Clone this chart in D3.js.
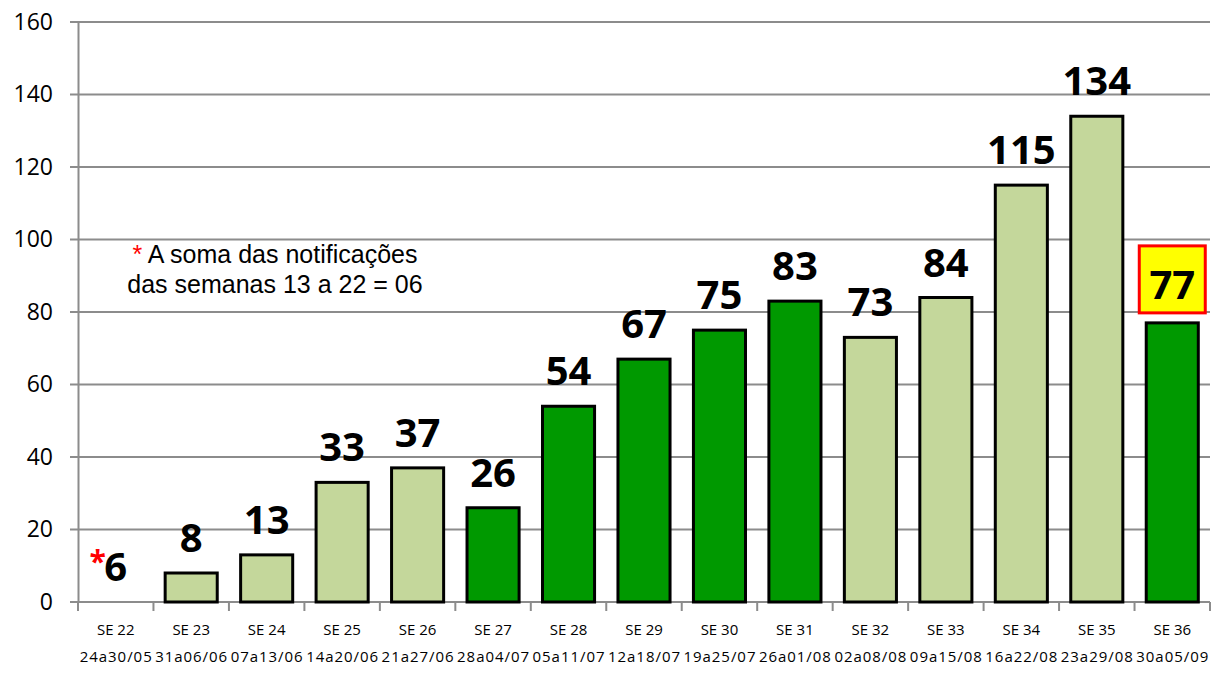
<!DOCTYPE html>
<html>
<head>
<meta charset="utf-8">
<script src="https://cdn.jsdelivr.net/npm/d3@7"></script>
<style>
  body { margin: 0; background: #fff; }
  text { font-family: "Open Sans", "Noto Sans", sans-serif; }
</style>
</head>
<body>
<script>
const weeks = ["SE 22","SE 23","SE 24","SE 25","SE 26","SE 27","SE 28","SE 29","SE 30","SE 31","SE 32","SE 33","SE 34","SE 35","SE 36"];
const periods = ["24a30/05","31a06/06","07a13/06","14a20/06","21a27/06","28a04/07","05a11/07","12a18/07","19a25/07","26a01/08","02a08/08","09a15/08","16a22/08","23a29/08","30a05/09"];
const values = [0, 8, 13, 33, 37, 26, 54, 67, 75, 83, 73, 84, 115, 134, 77];
const labels = ["6","8","13","33","37","26","54","67","75","83","73","84","115","134","77"];
const shade = ["none","light","light","light","light","dark","dark","dark","dark","dark","light","light","light","light","dark"];
const yTicks = [0, 20, 40, 60, 80, 100, 120, 140, 160];

const w = 1214, h = 678;
const mLeft = 78, mRight = 1210, mTop = 22, mBottom = 602;

const svg = d3.select("body").append("svg").attr("width", w).attr("height", h);

const x = d3.scaleBand().domain(weeks).range([mLeft, mRight]).paddingInner(0.31).paddingOuter(0.155);
const y = d3.scaleLinear().domain([0, 160]).range([mBottom, mTop]);
const color = {light: "#c4d79b", dark: "#009900"};
const idx = d3.range(weeks.length);

// gridlines
svg.append("g")
  .selectAll("line").data(yTicks).enter().append("line")
  .attr("x1", mLeft - 8).attr("x2", mRight)
  .attr("y1", d => y(d)).attr("y2", d => y(d))
  .attr("stroke", "#8c8c8c").attr("stroke-width", 2);

// y axis
const yAxis = svg.append("g").attr("transform", "translate(" + mLeft + ",0)")
  .call(d3.axisLeft(y).tickValues(yTicks).tickSize(0).tickPadding(25));
yAxis.select(".domain").attr("stroke", "#8c8c8c").attr("stroke-width", 2);
yAxis.selectAll("text").attr("font-size", "23px").attr("fill", "#000")
  .style("font-family", "'Open Sans', sans-serif");

// x ticks
const xt = d3.range(weeks.length + 1).map(i => mLeft + i * (mRight - mLeft) / weeks.length);
svg.append("g").selectAll("line").data(xt).enter().append("line")
  .attr("x1", d => d).attr("x2", d => d)
  .attr("y1", mBottom).attr("y2", mBottom + 9)
  .attr("stroke", "#8c8c8c").attr("stroke-width", 2);

// category labels
const cat = svg.append("g");
cat.selectAll(".wk").data(weeks).enter().append("text")
  .attr("x", d => x(d) + x.bandwidth() / 2).attr("y", 635)
  .attr("text-anchor", "middle").attr("font-size", "15px").text(d => d);
cat.selectAll(".pd").data(periods).enter().append("text")
  .attr("x", (d, i) => x(weeks[i]) + x.bandwidth() / 2).attr("y", 662)
  .attr("text-anchor", "middle").attr("font-size", "15px")
  .attr("textLength", 72).attr("lengthAdjust", "spacing").text(d => d);

// bars
svg.append("g").selectAll("rect").data(idx.filter(i => shade[i] !== "none")).enter().append("rect")
  .attr("x", i => x(weeks[i]))
  .attr("y", i => y(values[i]))
  .attr("width", x.bandwidth())
  .attr("height", i => y(0) - y(values[i]))
  .attr("fill", i => color[shade[i]])
  .attr("stroke", "#000").attr("stroke-width", 3);

// highlight box behind last label
const last = weeks.length - 1;
const cx = x(weeks[last]) + x.bandwidth() / 2;
svg.append("rect")
  .attr("x", cx - 33).attr("y", y(values[last]) - 77)
  .attr("width", 66).attr("height", 67)
  .attr("fill", "#ffff00").attr("stroke", "#ff0000").attr("stroke-width", 3);

// value labels
svg.append("g").selectAll("text").data(idx).enter().append("text")
  .attr("x", i => x(weeks[i]) + x.bandwidth() / 2)
  .attr("y", i => i === last ? y(values[i]) - 24 : y(values[i]) - 21)
  .attr("text-anchor", "middle")
  .attr("font-size", "40px").attr("font-weight", "bold")
  .text(i => labels[i]);

// red asterisk at first label
svg.append("text")
  .attr("x", x(weeks[0]) + x.bandwidth() / 2 - 18).attr("y", y(0) - 30)
  .attr("text-anchor", "middle").attr("font-size", "30px").attr("font-weight", "bold")
  .attr("fill", "#ff0000").text("*");

// annotation
const note = svg.append("text").attr("text-anchor", "middle")
  .style("font-family", "'Liberation Sans', Arial, sans-serif").attr("font-size", "25px");
note.append("tspan").attr("x", 275).attr("y", 263).attr("fill", "#ff0000").text("* ");
note.append("tspan").attr("fill", "#000").text("A soma das notificações");
svg.append("text").attr("text-anchor", "middle")
  .style("font-family", "'Liberation Sans', Arial, sans-serif").attr("font-size", "25px")
  .attr("x", 275).attr("y", 293).text("das semanas 13 a 22 = 06");
</script>
</body>
</html>
